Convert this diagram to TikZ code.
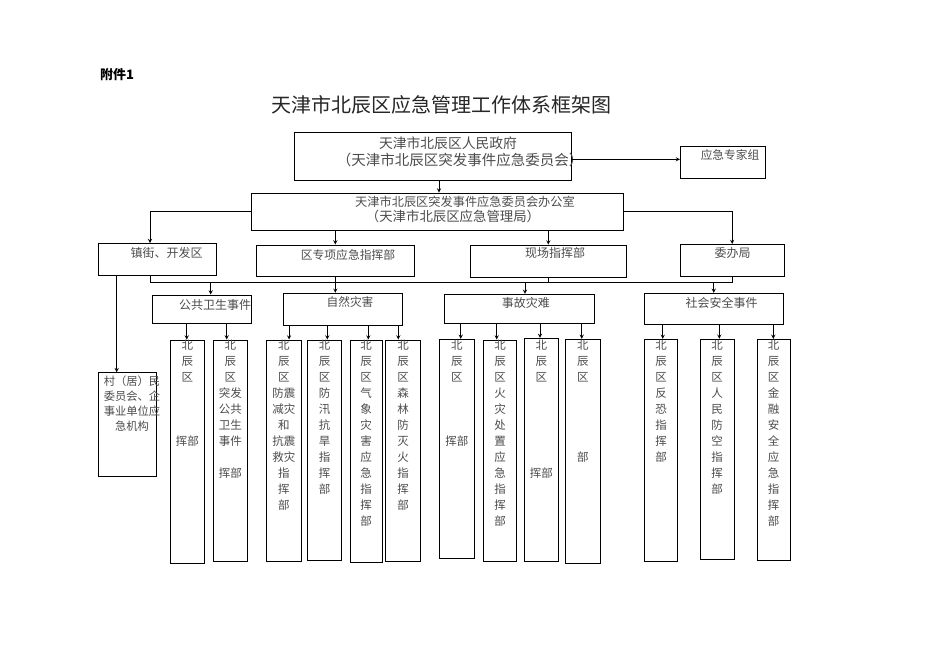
\documentclass[tikz,border=0pt]{standalone}
\usepackage{fontspec}
\setmainfont{Noto Sans CJK SC}
\begin{document}
\begin{tikzpicture}[x=1pt,y=-1pt,
	box/.style={draw,line width=0.9pt,inner sep=0pt},
	txt/.style={inner sep=0pt,text=black!70,font=\fontsize{12}{15}\selectfont,align=center},
	coltxt/.style={txt,anchor=north,font=\fontsize{11.5}{16}\selectfont},
	arr/.style={line width=0.9pt,-stealth},
	bar/.style={line width=0.9pt}]
\useasboundingbox (0,0) rectangle (936,662);
\node[inner sep=0pt,font=\fontsize{13}{13}\selectfont\bfseries] (annex) at (117,75) {附件1};
\node[inner sep=0pt,font=\fontsize{20}{20}\selectfont,text=black!85] (title) at (441,105) {天津市北辰区应急管理工作体系框架图};
% top boxes
\node[box,minimum width=277pt,minimum height=47.5pt] (gov) at (432.5,156.3) {};
\node[box,minimum width=85pt,minimum height=32pt] (expert) at (723,162) {};
\node[box,minimum width=371.6pt,minimum height=37pt] (office) at (437.5,211.5) {};
\node[txt,font=\fontsize{13.8}{17}\selectfont] (govtxt) at (448,143.3) {天津市北辰区人民政府};
\node[txt,font=\fontsize{14.5}{17}\selectfont] (govtxtb) at (460,160) {（天津市北辰区突发事件应急委员会）};
\node[txt,font=\fontsize{11.7}{15}\selectfont] (experttxt) at (730,155) {应急专家组};
\node[txt,font=\fontsize{12.2}{15}\selectfont] (officetxt) at (465,201.7) {天津市北辰区突发事件应急委员会办公室};
\node[txt,font=\fontsize{13.4}{15}\selectfont] (officetxtb) at (453,216.7) {（天津市北辰区应急管理局）};
% second row
\node[box,minimum width=118.4pt,minimum height=32pt] (zhen) at (157.5,259.5) {};
\node[box,minimum width=157.3pt,minimum height=31.7pt] (zx) at (335.3,260.8) {};
\node[box,minimum width=156.7pt,minimum height=32.3pt] (xc) at (548.3,261.2) {};
\node[box,minimum width=103.7pt,minimum height=32.2pt] (wb) at (732.2,260.6) {};
\node[txt] (zhentxt) at (166.7,253.3) {镇街、开发区};
\node[txt,font=\fontsize{11.8}{15}\selectfont] (zxtxt) at (348,255) {区专项应急指挥部};
\node[txt] (xctxt) at (555,253.3) {现场指挥部};
\node[txt] (wbtxt) at (732.5,253.3) {委办局};
% event types
\node[box,minimum width=99pt,minimum height=28.5pt] (gw) at (202.2,309.2) {};
\node[box,minimum width=119.4pt,minimum height=32.4pt] (zr) at (343,309.5) {};
\node[box,minimum width=150pt,minimum height=29pt] (sg) at (519,308.8) {};
\node[box,minimum width=139.3pt,minimum height=31pt] (sh) at (713.7,308.8) {};
\node[txt] (gwtxt) at (215,305) {公共卫生事件};
\node[txt,font=\fontsize{11.7}{15}\selectfont] (zrtxt) at (350,301.7) {自然灾害};
\node[txt] (sgtxt) at (525.8,303.3) {事故灾难};
\node[txt] (shtxt) at (721.7,303.3) {社会安全事件};
% columns
\node[box,minimum width=57.7pt,minimum height=103.3pt] (cun) at (127.2,424.3) {};
\node[txt,anchor=north,font=\fontsize{11.3}{15}\selectfont] (cuntxt) at (132,376) {村（居）民\\委员会、企\\事业单位应\\急机构};
\foreach \n/\x/\y/\w/\h/\lab in {
	v1/187.3/451.7/34/223.3/{北\\辰\\区\\[48pt]挥部},
	v2/230.3/450.8/34/221.7/{北\\辰\\区\\突发\\公共\\卫生\\事件\\[16pt]挥部},
	v3/283.8/450.8/35.7/221.7/{北\\辰\\区\\防震\\减灾\\和\\抗震\\救灾\\指\\挥\\部},
	v4/324.5/450/34.4/220/{北\\辰\\区\\防\\汛\\抗\\旱\\指\\挥\\部},
	v5/366.2/451.2/32.3/222.3/{北\\辰\\区\\气\\象\\灾\\害\\应\\急\\指\\挥\\部},
	v6/403.2/450.5/35/221/{北\\辰\\区\\森\\林\\防\\灭\\火\\指\\挥\\部},
	vA/456.8/448.8/35/219/{北\\辰\\区\\[48pt]挥部},
	vB/500/450.5/33.4/221/{北\\辰\\区\\火\\灾\\处\\置\\应\\急\\指\\挥\\部},
	vC/541.3/449.7/34/222.7/{北\\辰\\区\\[80pt]挥部},
	vD/582.8/451.3/35.7/224/{北\\辰\\区\\[64pt]部},
	vE/661/450.2/33.4/221.7/{北\\辰\\区\\反\\恐\\指\\挥\\部},
	vF/717.2/449.3/34.3/220/{北\\辰\\区\\人\\民\\防\\空\\指\\挥\\部},
	vG/773.7/449.7/32.7/220.7/{北\\辰\\区\\金\\融\\安\\全\\应\\急\\指\\挥\\部}}{
	\node[box,minimum width=\w pt,minimum height=\h pt] (\n) at (\x,\y) {};
	\node[coltxt] (\n-t) at (\x,339.5) {\lab};
}
% connectors
\draw[arr] ([yshift=-3pt]gov.east) -- ([yshift=-3pt]gov.east -| expert.west);
\draw[arr] ([xshift=6.5pt]gov.south) -- ([xshift=6.5pt]gov.south |- office.north);
\draw[arr] (office.west) -| ([xshift=-7.5pt]zhen.north);
\draw[arr] (office.east) -| (wb.north);
\draw[arr] (office.south -| zx.north) -- (zx.north);
\draw[arr] (office.south -| xc.north) -- (xc.north);
\coordinate (bus) at (0,282);
\draw[bar] ([xshift=-7.5pt]zhen.south) |- (bus -| wb.south) -- (wb.south);
\draw[arr] (zx.south) -- (zx.south |- zr.north);
\draw[bar] (xc.south) -- (xc.south |- bus);
\draw[arr] ([xshift=8.5pt]gw.north |- bus) -- ([xshift=8.5pt]gw.north);
\draw[arr] ([xshift=6pt]sg.north |- bus) -- ([xshift=6pt]sg.north);
\draw[arr] (sh.north |- bus) -- (sh.north);
\draw[arr] ([xshift=-10.5pt]cun.north |- zhen.south) -- ([xshift=-10.5pt]cun.north);
\foreach \c/\v/\dx in {gw/v1/-0.6, gw/v2/-3.6, zr/v3/5.2, zr/v4/2.8, zr/v5/2.1, zr/v6/-4.9, sg/vA/3.9, sg/vB/-3.3, sg/vC/-1.3, sg/vD/-1.1, sh/vE/1.7, sh/vF/2.1, sh/vG/-0.4}
	\draw[arr] ([xshift=\dx pt]\v.north |- \c.south) -- ([xshift=\dx pt]\v.north);
\end{tikzpicture}
\end{document}
